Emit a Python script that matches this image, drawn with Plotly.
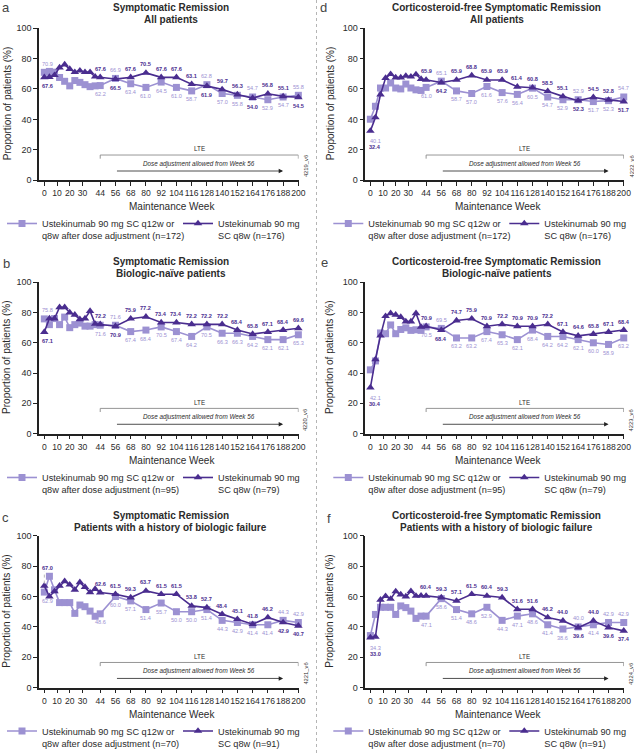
import plotly.graph_objects as go

W, H = 634, 753
FONT = "Liberation Sans, Arial, Helvetica, sans-serif"
LIGHT = "#9c91d2"
DARK = "#4a2d8f"
TXT = "#2b2b2b"

# ---------------- data ----------------
weeks = [0, 4, 8, 12, 16, 20, 24, 28, 32, 36, 40, 44,
         56, 68, 80, 92, 104, 116, 128, 140, 152, 164, 176, 188, 200]
tick_weeks = [0, 10, 20, 30, 44, 56, 68, 80, 92, 104, 116, 128,
              140, 152, 164, 176, 188, 200]
labelled_weeks = [0, 44, 56, 68, 80, 92, 104, 116, 128, 140, 152, 164, 176, 188, 200]

# a: Symptomatic remission, all patients
sr_all_q12 = [70.9, 71.5, 71.0, 67.5, 65.0, 62.0, 65.5, 64.3, 62.8, 61.5, 62.0, 62.2,
              66.9, 63.4, 61.0, 64.5, 61.0, 58.7, 62.8, 57.0, 55.8, 54.7, 52.9, 54.7, 55.8]
sr_all_q8 = [67.6, 67.8, 69.0, 74.0, 76.0, 73.0, 71.0, 72.0, 71.0, 71.0, 68.0, 67.6,
             66.5, 67.6, 70.5, 67.6, 67.6, 63.1, 61.9, 59.7, 56.3, 54.0, 56.8, 55.1, 54.5]
# b: Symptomatic remission, biologic-naive
sr_naive_q12 = [75.8, 72.0, 76.0, 72.0, 77.0, 70.0, 72.0, 73.0, 71.0, 71.0, 72.0, 71.6,
                71.6, 67.4, 68.4, 70.5, 67.4, 64.2, 70.5, 66.3, 66.3, 64.2, 62.1, 62.1, 65.3]
sr_naive_q8 = [67.1, 76.0, 76.0, 83.5, 83.5, 80.0, 78.5, 75.5, 76.0, 81.0, 72.5, 72.2,
               70.9, 75.9, 77.2, 73.4, 73.4, 72.2, 72.2, 72.2, 68.4, 65.8, 67.1, 68.4, 69.6]
# c: Symptomatic remission, history of biologic failure
sr_fail_q12 = [62.9, 73.3, 64.4, 56.0, 56.0, 56.0, 48.9, 54.4, 53.3, 50.4, 47.0, 48.6,
               60.0, 57.1, 51.4, 55.7, 50.0, 50.0, 51.4, 44.3, 42.9, 41.4, 41.4, 44.3, 42.9]
sr_fail_q8 = [67.0, 60.0, 63.3, 67.0, 70.0, 67.8, 64.4, 69.3, 66.2, 62.7, 64.9, 62.6,
              61.5, 59.3, 63.7, 61.5, 61.5, 53.8, 52.7, 48.4, 45.1, 41.8, 46.2, 42.9, 40.7]
# d: Corticosteroid-free symptomatic remission, all patients
cfsr_all_q12 = [40.1, 48.6, 60.6, 60.6, 63.9, 60.6, 60.0, 63.2, 60.6, 59.4, 59.0, 61.0,
                65.1, 58.7, 57.0, 61.6, 57.6, 56.4, 60.5, 54.7, 52.9, 52.9, 51.7, 52.3, 54.7]
cfsr_all_q8 = [32.4, 41.3, 56.3, 67.1, 69.7, 67.5, 67.5, 68.5, 68.0, 69.5, 66.5, 65.9,
               64.2, 65.9, 68.8, 65.9, 65.9, 61.4, 60.8, 58.5, 55.1, 52.3, 54.5, 52.8, 51.7]
# e: Corticosteroid-free symptomatic remission, biologic-naive
cfsr_naive_q12 = [42.1, 48.0, 66.5, 66.0, 71.8, 66.0, 68.8, 69.9, 68.2, 68.6, 68.2, 70.5,
                  69.5, 63.2, 63.2, 67.4, 65.3, 62.1, 68.4, 64.2, 64.2, 62.1, 60.0, 58.9, 63.2]
cfsr_naive_q8 = [30.4, 49.0, 64.7, 77.6, 79.5, 78.5, 77.0, 74.0, 74.0, 79.5, 70.5, 70.9,
                 68.4, 74.7, 75.9, 70.9, 72.2, 70.9, 70.9, 72.2, 67.1, 64.6, 65.8, 67.1, 68.4]
# f: Corticosteroid-free symptomatic remission, history of biologic failure
cfsr_fail_q12 = [34.3, 48.2, 52.9, 52.9, 52.9, 48.2, 53.8, 52.7, 50.4, 45.6, 47.1, 47.1,
                 58.6, 51.4, 48.6, 52.9, 44.3, 47.1, 48.6, 41.4, 38.6, 40.0, 41.4, 42.9, 42.9]
cfsr_fail_q8 = [33.0, 33.5, 57.8, 60.2, 58.4, 63.3, 61.3, 60.0, 63.5, 60.4, 60.5, 60.4,
                59.3, 57.1, 61.5, 60.4, 59.3, 51.6, 51.6, 46.2, 44.0, 39.6, 44.0, 39.6, 37.4]

y_ticks = [0, 20, 40, 60, 80, 100]

panels = [
    dict(letter="a", t1="Symptomatic Remission", t2="All patients",
         q12=sr_all_q12, q8=sr_all_q8, n12=172, n8=176, code="4219_v6", col=0, row=0, cf=False),
    dict(letter="b", t1="Symptomatic Remission", t2="Biologic-naïve patients",
         q12=sr_naive_q12, q8=sr_naive_q8, n12=95, n8=79, code="4220_v6", col=0, row=1, cf=False),
    dict(letter="c", t1="Symptomatic Remission", t2="Patients with a history of biologic failure",
         q12=sr_fail_q12, q8=sr_fail_q8, n12=70, n8=91, code="4221_v6", col=0, row=2, cf=False),
    dict(letter="d", t1="Corticosteroid-free Symptomatic Remission", t2="All patients",
         q12=cfsr_all_q12, q8=cfsr_all_q8, n12=172, n8=176, code="4222_v6", col=1, row=0, cf=True),
    dict(letter="e", t1="Corticosteroid-free Symptomatic Remission", t2="Biologic-naïve patients",
         q12=cfsr_naive_q12, q8=cfsr_naive_q8, n12=95, n8=79, code="4223_v6", col=1, row=1, cf=True),
    dict(letter="f", t1="Corticosteroid-free Symptomatic Remission", t2="Patients with a history of biologic failure",
         q12=cfsr_fail_q12, q8=cfsr_fail_q8, n12=70, n8=91, code="4224_v6", col=1, row=2, cf=True),
]

# ---------------- geometry (pixels) ----------------
COLS = [(39.0, 298.6), (365.3, 624.0)]
XRANGE = [[-4.2, 200.2], [-4.0, 200.2]]
ROWS = [(28.0, 180.3), (282.3, 433.5), (535.7, 687.7)]
ROW_OFF = [0.0, 254.0, 507.5]
LETTER_POS = {"a": (0, 8), "b": (1, 263), "c": (0, 517), "d": (318, 8), "e": (319, 262), "f": (325, 518)}


def px(x):
    return x / W


def py(y):
    return 1 - y / H


def txt(**kw):
    d = dict(showarrow=False, xanchor="center", yanchor="middle")
    d.update(kw)
    return d


fig = go.Figure()
annotations = []
shapes = []
layout = dict(width=W, height=H, autosize=False,
              margin=dict(l=0, r=0, t=0, b=0, pad=0, autoexpand=False),
              paper_bgcolor="white", plot_bgcolor="white",
              font=dict(family=FONT, color=TXT))

for i, p in enumerate(panels):
    k = i + 1
    xa = "x" if k == 1 else f"x{k}"
    ya = "y" if k == 1 else f"y{k}"
    xkey = "xaxis" if k == 1 else f"xaxis{k}"
    ykey = "yaxis" if k == 1 else f"yaxis{k}"
    lkey = "legend" if k == 1 else f"legend{k}"
    c, r = p["col"], p["row"]
    x0, x1 = COLS[c]
    yt, yb = ROWS[r]
    off = ROW_OFF[r]
    cx = (x0 + x1) / 2 + 2

    layout[xkey] = dict(domain=[px(x0), px(x1)], range=XRANGE[c], anchor=ya,
                        tickmode="array", tickvals=tick_weeks,
                        ticktext=[str(t) for t in tick_weeks], tickangle=0,
                        ticks="outside", ticklen=4, tickwidth=1.3, tickcolor="#222",
                        showline=True, linecolor="#222", linewidth=1.5,
                        showgrid=False, zeroline=False, fixedrange=True, automargin=False,
                        tickfont=dict(size=8.6, family=FONT, color=TXT))
    layout[ykey] = dict(domain=[py(yb), py(yt)], range=[0, 100], anchor=xa,
                        tickmode="array", tickvals=y_ticks,
                        ticks="outside", ticklen=4, tickwidth=1.3, tickcolor="#222",
                        showline=True, linecolor="#222", linewidth=1.5,
                        showgrid=False, zeroline=False, fixedrange=True, automargin=False,
                        tickfont=dict(size=9, family=FONT, color=TXT))

    fig.add_trace(go.Scatter(
        x=weeks, y=p["q12"], xaxis=xa, yaxis=ya, mode="lines+markers",
        name=f"Ustekinumab 90 mg SC q12w or<br>q8w after dose adjustment (n={p['n12']})",
        line=dict(color=LIGHT, width=1.6),
        marker=dict(symbol="square", size=7, color=LIGHT),
        legend=lkey, cliponaxis=False, hoverinfo="skip"))
    fig.add_trace(go.Scatter(
        x=weeks, y=p["q8"], xaxis=xa, yaxis=ya, mode="lines+markers",
        name=f"Ustekinumab 90 mg<br>SC q8w (n={p['n8']})",
        line=dict(color=DARK, width=1.6),
        marker=dict(symbol="triangle-up", size=7.5, color=DARK),
        legend=lkey, cliponaxis=False, hoverinfo="skip"))

    layout[lkey] = dict(orientation="h", x=px(x0 - 37), xanchor="left",
                        y=py(off + 211), yanchor="top",
                        font=dict(size=9.2, family=FONT, color=TXT),
                        bgcolor="rgba(0,0,0,0)", borderwidth=0,
                        entrywidth=131, entrywidthmode="pixels",
                        itemwidth=30, valign="top", traceorder="normal")

    # data labels
    for wk in labelled_weeks:
        j = weeks.index(wk)
        v12, v8 = p["q12"][j], p["q8"][j]
        xs = 3 if wk == 0 else 0
        if wk == 0 and p["cf"]:
            low = min(v12, v8)
            annotations.append(txt(x=wk, y=low, xref=xa, yref=ya, text=f"{v12:.1f}",
                                   xshift=xs + 2, yshift=-10,
                                   font=dict(size=5.6, color=LIGHT, family=FONT)))
            annotations.append(txt(x=wk, y=low, xref=xa, yref=ya, text=f"<b>{v8:.1f}</b>",
                                   xshift=xs + 2, yshift=-16.5,
                                   font=dict(size=5.6, color=DARK, family=FONT)))
            continue
        up12 = v12 > v8
        s12 = 8.5 if up12 else -8.5
        s8 = -8.5 if up12 else 8.5
        if wk == 0 and p["letter"] == "c":
            s8 = 18
            shapes.append(dict(type="line", xref=xa, yref=ya, x0=0, x1=0, y0=v8 + 1.5, y1=v8 + 9.5,
                               line=dict(color="#b8b8b8", width=1, dash="dot")))
        annotations.append(txt(x=wk, y=v12, xref=xa, yref=ya, text=f"{v12:.1f}",
                               xshift=xs, yshift=s12,
                               font=dict(size=5.6, color=LIGHT, family=FONT)))
        annotations.append(txt(x=wk, y=v8, xref=xa, yref=ya, text=f"<b>{v8:.1f}</b>",
                               xshift=xs, yshift=s8,
                               font=dict(size=5.6, color=DARK, family=FONT)))

    # LTE bracket
    shapes.append(dict(type="path", xref=xa, yref=ya,
                       path="M44,14.2 L44,16.6 L200,16.6 L200,14.2",
                       line=dict(color="#8a8a8a", width=0.9)))
    annotations.append(txt(x=122, y=20.6, xref=xa, yref=ya, text="LTE",
                           font=dict(size=6.3, color=TXT, family=FONT)))
    annotations.append(dict(x=188, y=6.1, xref=xa, yref=ya, ax=56, ay=6.1, axref=xa, ayref=ya,
                            text="", showarrow=True, arrowhead=2, arrowsize=1.1,
                            arrowwidth=0.8, arrowcolor="#222"))
    annotations.append(txt(x=122, y=10.8, xref=xa, yref=ya,
                           text="<i>Dose adjustment allowed from Week 56</i>",
                           font=dict(size=6.3, color=TXT, family=FONT)))
    # code id
    annotations.append(txt(x=px(x1 + 7), y=py(off + 166.5), xref="paper", yref="paper",
                           text=p["code"], textangle=-90,
                           font=dict(size=5.8, color=TXT, family=FONT)))

    # titles
    annotations.append(txt(x=px(cx), y=py(off + 7.5), xref="paper", yref="paper",
                           text=f"<b>{p['t1']}</b>",
                           font=dict(size=10, color=TXT, family=FONT)))
    annotations.append(txt(x=px(cx), y=py(off + 19.8), xref="paper", yref="paper",
                           text=f"<b>{p['t2']}</b>",
                           font=dict(size=10, color=TXT, family=FONT)))
    # panel letter
    lx, ly = LETTER_POS[p["letter"]]
    annotations.append(txt(x=px(lx), y=py(ly), xref="paper", yref="paper", xanchor="left",
                           text=p["letter"],
                           font=dict(size=13, color="#444", family=FONT)))
    # axis titles
    annotations.append(txt(x=px(7 if c == 0 else 330), y=py((yt + yb) / 2), xref="paper", yref="paper",
                           text="Proportion of patients (%)", textangle=-90,
                           font=dict(size=10, color=TXT, family=FONT)))
    annotations.append(txt(x=px((x0 + x1) / 2 + 3), y=py(yb + 26.5), xref="paper", yref="paper",
                           text="Maintenance Week",
                           font=dict(size=10, color=TXT, family=FONT)))

# column separator
shapes.append(dict(type="line", xref="paper", yref="paper", x0=px(316.5), x1=px(316.5), y0=0, y1=1,
                   line=dict(color="#b5b5b5", width=1, dash="dot")))

layout["annotations"] = annotations
layout["shapes"] = shapes
fig.update_layout(**layout)
fig.write_html("out.html", config={"displayModeBar": False},
               post_script="document.body.style.margin='0';document.body.style.padding='0';"
                           "document.body.style.overflow='hidden';")
